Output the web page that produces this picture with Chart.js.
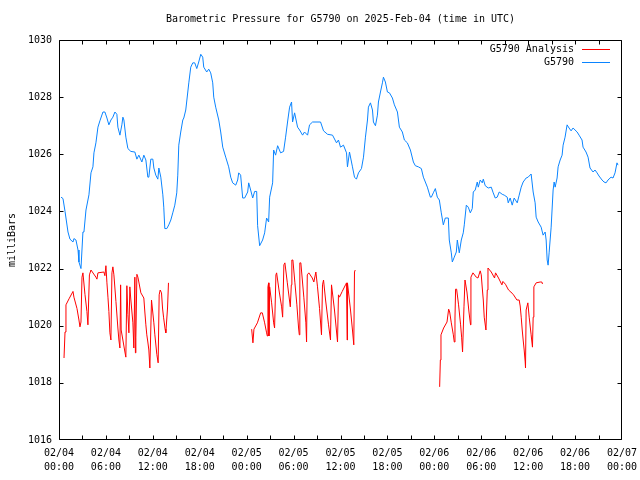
<!DOCTYPE html>
<html><head><meta charset="utf-8">
<script src="https://cdn.jsdelivr.net/npm/chart.js@4.4.1/dist/chart.umd.min.js"></script>
<style>html,body{margin:0;padding:0;background:#fff;}canvas{display:block;}</style>
</head><body>
<canvas id="c" width="640" height="480"></canvas>
<script>
const chartTitle = 'Barometric Pressure for G5790 on 2025-Feb-04 (time in UTC)';
const yAxisTitle = 'milliBars';
const seriesNames = ['G5790 Analysis', 'G5790'];
const seriesColors = ['#ff0000', '#0a84ff'];
const tickDates = ['02/04','02/04','02/04','02/04','02/05','02/05','02/05','02/05','02/06','02/06','02/06','02/06','02/07'];
const tickTimes = ['00:00','06:00','12:00','18:00','00:00','06:00','12:00','18:00','00:00','06:00','12:00','18:00','00:00'];
const yTickValues = [1016, 1018, 1020, 1022, 1024, 1026, 1028, 1030];

// hours since 02/04 00:00 UTC
const stationHours = [0.26,0.51,0.77,1.15,1.40,1.79,1.91,2.17,2.43,2.55,
2.81,3.06,3.19,3.45,3.70,3.83,4.09,4.34,4.47,4.72,
4.98,5.23,5.62,5.87,6.13,6.38,6.64,6.89,7.15,7.40,
7.53,7.79,8.04,8.17,8.30,8.55,8.81,9.19,9.70,9.96,
10.21,10.60,10.85,11.11,11.36,11.49,11.74,12.00,12.13,12.38,
12.64,12.77,13.02,13.28,13.40,13.53,13.79,14.04,14.30,14.55,
14.81,15.06,15.19,15.32,15.57,15.83,15.96,16.21,16.47,16.60,
16.85,17.11,17.36,17.62,17.87,18.13,18.38,18.51,18.89,19.15,
19.40,19.66,19.79,20.04,20.43,20.68,20.94,21.32,21.70,21.96,
22.21,22.60,22.85,22.98,23.23,23.49,23.74,24.13,24.26,24.51,
24.77,25.02,25.28,25.40,25.66,26.04,26.30,26.55,26.81,26.94,
27.32,27.45,27.70,27.96,28.34,28.72,28.98,29.23,29.49,29.74,
29.87,30.13,30.51,30.77,31.15,31.40,31.79,32.04,32.43,33.45,
33.83,34.34,34.98,35.49,35.74,36.00,36.38,36.77,36.89,37.15,
37.53,37.79,38.04,38.30,38.68,38.94,39.19,39.45,39.57,39.83,
40.09,40.21,40.47,40.72,40.85,41.11,41.36,41.49,41.74,42.00,
42.26,42.64,42.89,43.28,43.53,43.91,44.17,44.55,44.94,45.32,
45.57,45.96,46.34,46.60,46.85,47.11,47.49,47.62,47.87,48.13,
48.38,48.64,48.89,49.15,49.40,49.79,49.91,50.17,50.30,50.55,
50.81,50.94,51.19,51.45,51.70,51.83,52.09,52.34,52.60,52.85,
52.98,53.23,53.49,53.62,53.87,54.13,54.26,54.51,54.89,55.28,
55.53,55.79,56.04,56.30,56.68,56.94,57.32,57.45,57.70,57.96,
58.21,58.60,58.85,59.11,59.36,59.74,60.00,60.38,60.64,60.89,
61.02,61.28,61.66,61.91,62.17,62.30,62.43,62.55,62.68,62.94,
63.19,63.32,63.45,63.70,63.83,64.09,64.34,64.47,64.72,64.98,
65.23,65.49,65.74,66.26,66.51,66.89,67.02,67.40,67.66,67.91,
68.30,68.55,68.81,69.06,69.45,69.70,69.96,70.21,70.60,70.85,
71.11,71.36,71.49];
const stationPressure = [1024.5,1024.45,1024.0,1023.28,1023.03,1022.93,1023.05,1023.0,1022.65,1022.23,
1022.0,1023.28,1023.28,1024.05,1024.4,1024.58,1025.35,1025.56,1026.05,1026.4,
1026.95,1027.17,1027.48,1027.48,1027.27,1027.03,1027.2,1027.3,1027.48,1027.4,
1026.95,1026.67,1027.03,1027.3,1027.2,1026.6,1026.2,1026.1,1026.08,1025.83,
1025.97,1025.73,1025.97,1025.8,1025.2,1025.2,1025.83,1025.83,1025.52,1025.27,
1025.13,1025.52,1025.2,1024.58,1024.15,1023.4,1023.4,1023.53,1023.7,1023.95,
1024.22,1024.65,1025.27,1026.32,1026.78,1027.2,1027.27,1027.55,1028.18,1028.5,
1029.05,1029.2,1029.2,1029.0,1029.23,1029.5,1029.4,1029.05,1028.88,1028.98,
1028.85,1028.5,1028.0,1027.65,1027.2,1026.78,1026.25,1025.9,1025.56,1025.2,
1025.0,1024.92,1025.1,1025.35,1025.27,1024.47,1024.47,1024.68,1025.0,1024.75,
1024.47,1024.7,1024.7,1023.5,1022.8,1023.0,1023.25,1023.77,1023.63,1024.5,
1025.0,1026.15,1025.97,1026.3,1026.05,1026.1,1026.6,1027.13,1027.65,1027.83,
1027.13,1027.45,1026.95,1026.85,1026.67,1026.78,1026.67,1027.03,1027.13,1027.13,
1026.82,1026.7,1026.67,1026.4,1026.5,1026.25,1026.32,1026.05,1025.56,1026.08,
1025.56,1025.2,1025.13,1025.35,1025.5,1025.9,1026.6,1027.2,1027.65,1027.8,
1027.55,1027.13,1027.0,1027.37,1027.83,1028.18,1028.5,1028.7,1028.53,1028.18,
1028.15,1027.97,1027.73,1027.48,1026.95,1026.78,1026.5,1026.4,1026.15,1025.73,
1025.6,1025.56,1025.5,1025.2,1025.03,1024.85,1024.5,1024.5,1024.65,1024.8,
1024.5,1024.4,1023.95,1023.53,1023.77,1023.77,1023.0,1022.55,1022.23,1022.4,
1022.58,1023.0,1022.55,1023.0,1023.25,1023.53,1024.22,1024.15,1023.95,1024.1,
1024.68,1024.75,1025.03,1024.85,1025.1,1025.0,1025.13,1024.9,1024.82,1024.85,
1024.65,1024.47,1024.5,1024.68,1024.6,1024.57,1024.5,1024.3,1024.47,1024.22,
1024.47,1024.3,1024.57,1024.85,1025.03,1025.17,1025.2,1025.31,1024.68,1024.3,
1023.8,1023.63,1023.45,1023.17,1023.28,1023.0,1022.3,1022.12,1022.55,1023.45,
1024.75,1025.03,1024.85,1025.17,1025.56,1025.8,1025.97,1026.32,1026.6,1027.03,
1026.92,1026.82,1026.92,1026.78,1026.67,1026.5,1026.25,1026.08,1025.9,1025.52,
1025.38,1025.45,1025.35,1025.24,1025.1,1025.03,1025.0,1025.1,1025.2,1025.17,
1025.35,1025.7,1025.62];

const analysisHours = [0.64,0.77,0.89,1.28,1.79,1.91,2.30,2.55,2.68,2.81,
2.94,3.06,3.32,3.57,3.70,3.89,4.09,4.72,4.85,4.98,
5.74,5.87,6.00,6.13,6.26,6.38,6.51,6.64,6.77,6.89,
7.02,7.28,7.53,7.66,7.79,7.88,7.95,8.17,8.43,8.55,
8.68,8.81,8.94,9.06,9.19,9.45,9.57,9.70,9.77,9.83,
9.96,10.09,10.21,10.47,10.85,10.98,11.11,11.23,11.36,11.49,
11.62,11.83,12.13,12.26,12.51,12.68,12.81,12.94,13.11,13.24,
13.37,13.57,13.66,13.88,14.00,
19.00,
24.64,24.80,24.93,25.37,25.79,26.00,26.30,26.55,26.64,26.72,
26.81,26.85,26.94,27.19,27.45,27.57,27.74,27.83,28.17,28.47,
28.60,28.76,28.89,29.20,29.58,29.71,29.78,29.91,30.17,30.42,
30.64,30.73,30.80,30.93,31.31,31.57,31.66,31.75,31.95,32.39,
32.59,32.85,33.06,33.32,33.57,33.70,33.83,34.09,34.47,34.72,
34.85,35.23,35.62,35.74,35.87,36.22,36.64,36.77,36.85,36.89,
37.28,37.53,37.70,37.79,37.88,
43.00,
48.68,48.77,48.85,49.19,49.62,49.83,49.96,50.17,50.43,50.55,
50.64,50.72,50.85,51.10,51.36,51.49,51.61,51.79,51.92,52.17,
52.43,52.63,52.68,52.94,53.36,53.58,53.87,54.00,54.13,54.26,
54.38,54.60,54.77,54.86,55.28,55.70,55.83,56.21,56.64,56.77,
57.10,57.49,57.79,58.13,58.56,58.85,58.98,59.11,59.24,59.36,
59.49,59.62,59.66,59.74,59.96,60.13,60.38,60.55,60.64,60.73,
61.02,61.53,61.75,61.83];
const analysisPressure = [1018.87,1019.78,1020.73,1020.94,1021.2,1021.0,1020.6,1020.2,1019.96,1020.13,
1021.7,1021.85,1021.1,1020.5,1020.03,1021.78,1021.95,1021.7,1021.63,1021.85,
1021.88,1021.75,1022.1,1021.5,1021.0,1020.5,1019.75,1019.5,1021.85,1022.06,
1021.78,1020.85,1019.92,1019.5,1019.22,1021.43,1019.85,1019.5,1019.08,1018.9,
1021.4,1020.4,1019.75,1021.36,1020.9,1020.1,1019.22,1021.7,1019.05,1019.6,
1021.8,1021.7,1021.53,1021.15,1020.97,1020.48,1020.03,1019.68,1019.43,1019.15,
1018.52,1020.9,1020.1,1019.68,1019.0,1018.7,1021.08,1021.25,1021.15,1020.62,
1020.3,1019.88,1019.75,1020.62,1021.5,
null,
1019.88,1019.4,1019.88,1020.1,1020.45,1020.45,1020.1,1019.75,1019.64,1021.36,
1021.5,1019.64,1021.36,1020.8,1020.1,1019.92,1021.78,1021.85,1021.18,1020.66,
1020.3,1022.13,1022.2,1021.5,1020.66,1021.43,1022.3,1022.3,1021.5,1020.73,
1019.92,1019.68,1022.2,1022.2,1021.0,1020.1,1019.43,1021.78,1021.85,1021.67,
1021.53,1021.88,1021.36,1020.6,1019.68,1021.43,1021.6,1020.9,1020.03,1019.5,
1021.43,1020.55,1019.43,1021.08,1021.0,1021.2,1021.43,1021.5,1019.5,1021.5,
1020.55,1019.85,1019.33,1021.88,1021.95,
null,
1017.86,1018.8,1019.68,1019.92,1020.13,1020.58,1020.48,1020.1,1019.68,1019.43,
1020.27,1021.28,1021.28,1020.73,1020.03,1019.6,1019.08,1020.66,1021.6,1021.18,
1020.48,1020.03,1021.7,1021.85,1021.7,1021.67,1021.92,1021.78,1021.32,1020.9,
1020.3,1019.85,1021.25,1022.02,1021.88,1021.67,1021.85,1021.67,1021.43,1021.55,
1021.45,1021.25,1021.18,1021.08,1020.9,1020.9,1020.69,1020.3,1019.85,1019.5,
1019.15,1018.73,1018.52,1020.55,1020.8,1020.3,1019.68,1019.25,1020.3,1021.36,
1021.5,1021.53,1021.53,1021.46];

const FONT = "'DejaVu Sans Mono', 'Liberation Mono', monospace";
Chart.defaults.font.family = FONT;
Chart.defaults.font.size = 10;
Chart.defaults.color = '#000';

function pairs(xs, ys) {
  const out = [];
  for (let i = 0; i < Math.min(xs.length, ys.length); i++) out.push({x: xs[i], y: ys[i]});
  return out;
}

const framePlugin = {
  id: 'frame',
  afterDraw(chart) {
    const ctx = chart.ctx;
    const {left, right, top, bottom} = chart.chartArea;
    const xs = chart.scales.x, ys = chart.scales.y;
    ctx.save();
    // title centred over the plot area
    ctx.font = '10px ' + FONT;
    ctx.fillStyle = '#000';
    ctx.textAlign = 'center';
    ctx.textBaseline = 'middle';
    ctx.fillText(chartTitle, (left + right) / 2, 19.5);

    ctx.strokeStyle = '#000';
    ctx.lineWidth = 1;
    ctx.beginPath();
    const L = Math.round(left) + 0.5, R = Math.round(right) - 0.5;
    const T = Math.round(top) + 0.5, B = Math.round(bottom) - 0.5;
    ctx.rect(L, T, R - L, B - T);
    const tl = 4;
    for (let h = xs.min; h <= xs.max; h += 3) {
      let px = Math.round(xs.getPixelForValue(h)) + 0.5;
      if (px > R) px = R;
      ctx.moveTo(px, B); ctx.lineTo(px, B - tl);
      ctx.moveTo(px, T); ctx.lineTo(px, T + tl);
    }
    yTickValues.forEach(v => {
      let py = Math.round(ys.getPixelForValue(v)) + 0.5;
      if (py > B) py = B;
      ctx.moveTo(L, py); ctx.lineTo(L + tl, py);
      ctx.moveTo(R, py); ctx.lineTo(R - tl, py);
    });
    ctx.stroke();
    // legend (top right, inside plot)
    ctx.textAlign = 'right';
    const rows = [49.5, 62.5];
    chart.data.datasets.forEach((ds, i) => {
      const y = rows[i];
      ctx.fillText(ds.label, 574, y);
      ctx.beginPath();
      ctx.strokeStyle = ds.borderColor;
      ctx.moveTo(582, y); ctx.lineTo(610, y);
      ctx.stroke();
    });
    ctx.restore();
  }
};

new Chart(document.getElementById('c'), {
  type: 'line',
  data: {
    datasets: [
      { label: seriesNames[0], data: pairs(analysisHours, analysisPressure), borderColor: seriesColors[0],
        borderWidth: 1, pointRadius: 0, tension: 0, spanGaps: false, fill: false },
      { label: seriesNames[1], data: pairs(stationHours, stationPressure), borderColor: seriesColors[1],
        borderWidth: 1, pointRadius: 0, tension: 0, spanGaps: false, fill: false }
    ]
  },
  options: {
    responsive: false,
    animation: false,
    devicePixelRatio: 1,
    layout: { padding: { left: 0, right: 18, top: 40, bottom: 0 } },
    plugins: {
      legend: { display: false },
      tooltip: { enabled: false },
      title: { display: false }
    },
    scales: {
      x: {
        type: 'linear', min: 0, max: 72,
        grid: { display: false, drawTicks: false },
        border: { display: false },
        ticks: {
          stepSize: 6, autoSkip: false, maxRotation: 0, padding: 7,
          font: { size: 10, lineHeight: 1.35 },
          callback: (v) => { const i = Math.round(v / 6); return [tickDates[i], tickTimes[i]]; }
        },
        afterFit: (s) => { s.height = 40; s.paddingLeft = 0; s.paddingRight = 0; }
      },
      y: {
        min: 1016, max: 1030,
        grid: { display: false, drawTicks: false },
        border: { display: false },
        ticks: { stepSize: 2, padding: 7, font: { size: 10 }, callback: (v) => String(v) },
        title: { display: true, text: yAxisTitle, font: { size: 10 }, padding: { top: 6, bottom: 0 } },
        afterFit: (s) => { s.width = 59; s.paddingTop = 0; s.paddingBottom = 0; }
      }
    }
  },
  plugins: [framePlugin]
});
</script>
</body></html>
